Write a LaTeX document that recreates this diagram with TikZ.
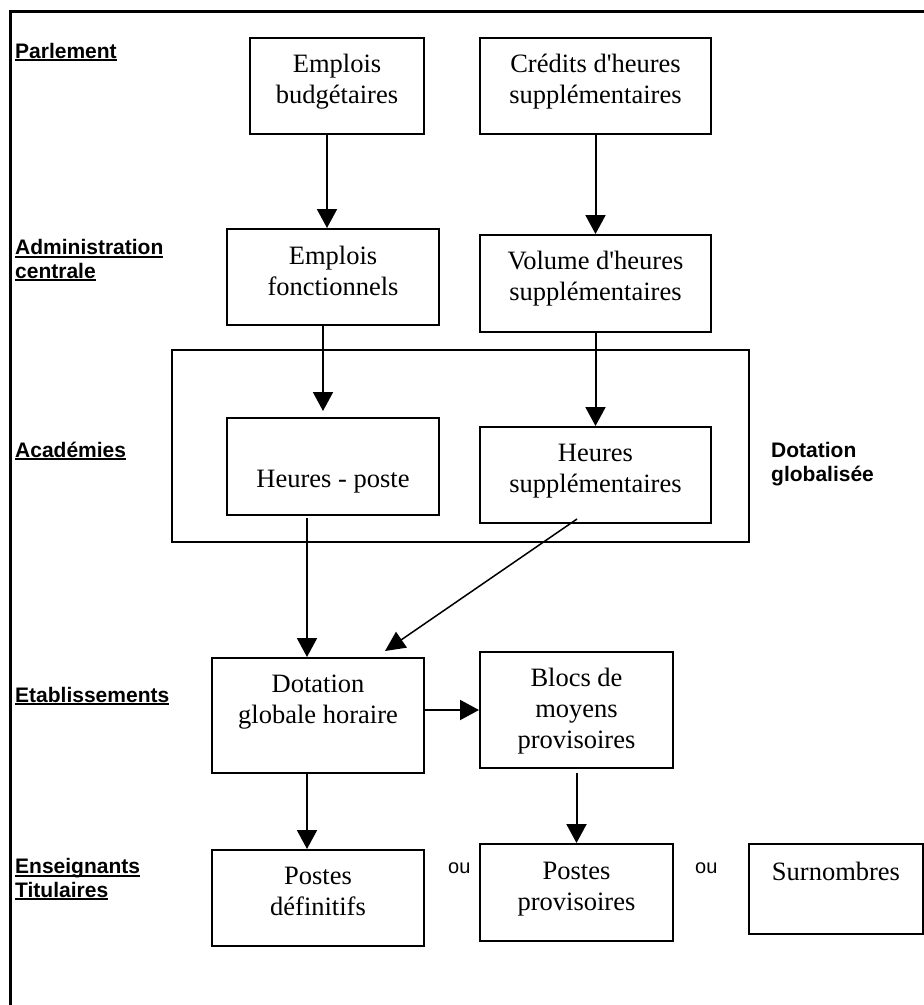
\documentclass[tikz,border=0pt]{standalone}
\usepackage{fontspec}
\setmainfont{Liberation Serif}
\setsansfont{Liberation Sans}
\usetikzlibrary{arrows.meta}
\newcommand\myul[1]{\setbox0\hbox{#1}\leavevmode\rlap{\vrule width\wd0 height -1.2pt depth 3.3pt}\box0}
\tikzset{
  box/.style={draw, line width=2pt, rectangle, inner sep=0pt},
  boxtext/.style={anchor=base, align=center, inner sep=0pt, font=\fontsize{26.5}{31}\selectfont},
  lvl/.style={anchor=base west, align=left, inner sep=0pt, font=\sffamily\bfseries\fontsize{21}{23.5}\selectfont},
  ortext/.style={anchor=base west, inner sep=0pt, font=\sffamily\fontsize{20}{24}\selectfont},
  arr/.style={line width=2pt, -{Triangle[width=20pt,length=19pt]}},
}
\begin{document}
\begin{tikzpicture}[x=1pt,y=-1pt]
\useasboundingbox (0,0) rectangle (924,1005);
% frame
\draw[line width=3pt] (10,1010) -- (10,11) -- (930,11);

% boxes
\node[box, minimum width=174pt, minimum height=96pt] (ebud) at (337,86) {};
\node[box, minimum width=231pt, minimum height=96pt] (cred) at (595.5,86) {};
\node[box, minimum width=212pt, minimum height=96pt] (efonc) at (333,277) {};
\node[box, minimum width=231pt, minimum height=97pt] (vol) at (595.5,283.5) {};
\node[box, minimum width=577pt, minimum height=192pt] (big) at (460.5,446) {};
\node[box, minimum width=212pt, minimum height=97pt] (hp) at (333,466.5) {};
\node[box, minimum width=231pt, minimum height=96pt] (hs) at (595.5,475) {};
\node[box, minimum width=212pt, minimum height=115pt] (dgh) at (318,715.5) {};
\node[box, minimum width=193pt, minimum height=116pt] (blocs) at (576.5,710) {};
\node[box, minimum width=212pt, minimum height=96pt] (pdef) at (318,898) {};
\node[box, minimum width=193pt, minimum height=97pt] (pprov) at (576.5,892.5) {};
\node[box, minimum width=174pt, minimum height=90pt] (surn) at (836,889) {};

% box texts (anchor = baseline of the last line)
\node[boxtext] (tebud) at (337,103) {Emplois\\budgétaires};
\node[boxtext] (tcred) at (595.5,103) {Crédits d\textquotesingle heures\\supplémentaires};
\node[boxtext] (tefonc) at (333,295) {Emplois\\fonctionnels};
\node[boxtext] (tvol) at (595.5,300) {Volume d\textquotesingle heures\\supplémentaires};
\node[boxtext] (thp) at (333,487) {Heures - poste};
\node[boxtext] (ths) at (595.5,492) {Heures\\supplémentaires};
\node[boxtext] (tdgh) at (318,723) {Dotation\\globale horaire};
\node[boxtext] (tblocs) at (576.5,748) {Blocs de\\moyens\\provisoires};
\node[boxtext] (tpdef) at (318,915) {Postes\\définitifs};
\node[boxtext] (tpprov) at (576.5,910) {Postes\\provisoires};
\node[boxtext] (tsurn) at (836,880) {Surnombres};

% level labels
\node[lvl] (lparl) at (15,58) {\myul{Parlement}};
\node[lvl] (ladm) at (15,278) {\myul{Administration}\\\myul{centrale}};
\node[lvl] (lacad) at (15,457) {\myul{Académies}};
\node[lvl] (ldot) at (771,481) {Dotation\\globalisée};
\node[lvl] (letab) at (15,702) {\myul{Etablissements}};
\node[lvl] (lens) at (15,897) {\myul{Enseignants}\\\myul{Titulaires}};
\node[ortext] (ou1) at (448,873) {ou};
\node[ortext] (ou2) at (695,873) {ou};

% arrows
\draw[arr] ([xshift=-10pt]ebud.south) -- ([xshift=-6pt]efonc.north);
\draw[arr] (cred.south) -- (vol.north);
\draw[arr, shorten >=6pt] ([xshift=-10pt]efonc.south) -- ([xshift=-10pt]hp.north);
\draw[arr] (vol.south) -- (hs.north);
\draw[arr, shorten <=2pt] ([xshift=-26pt]hp.south) -- ([xshift=-11pt]dgh.north);
\draw[line width=1.5pt, -{Triangle[width=19pt,length=20pt]}] ([xshift=-18.5pt,yshift=5pt]hs.south) -- ([xshift=67pt,yshift=6pt]dgh.north);
\draw[arr] (dgh.east |- blocs.west) -- (blocs.west);
\draw[arr] ([xshift=-11pt]dgh.south) -- ([xshift=-11pt]pdef.north);
\draw[arr, shorten <=4pt] (blocs.south) -- (pprov.north);
\end{tikzpicture}
\end{document}
